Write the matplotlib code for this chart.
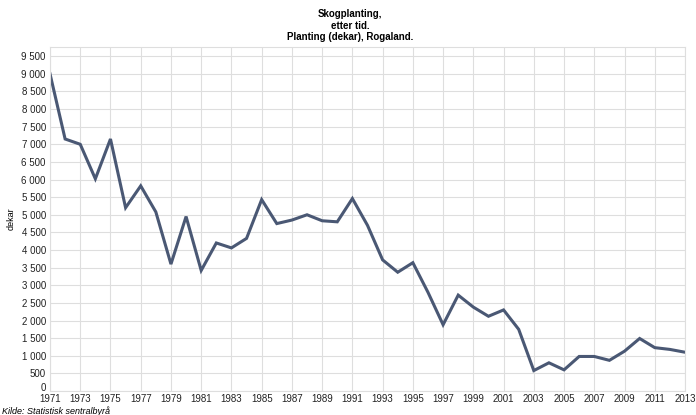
import matplotlib
matplotlib.use("Agg")
import matplotlib.pyplot as plt
import matplotlib.transforms as mtransforms
from matplotlib.ticker import FuncFormatter, MultipleLocator

plt.rcParams['font.family'] = ['Liberation Sans', 'DejaVu Sans']

years = list(range(1971, 2014))
values = [9000, 7150, 7000, 6020, 7150, 5200, 5820, 5080, 3600, 4950,
          3420, 4200, 4060, 4330, 5430, 4750, 4850, 5000, 4830, 4800,
          5460, 4700, 3720, 3370, 3640, 2800, 1880, 2720, 2380, 2120,
          2300, 1750, 580, 800, 600, 980, 980, 870, 1130, 1490,
          1230, 1180, 1100]
title = "Skogplanting,\netter tid.\nPlanting (dekar), Rogaland."
ylabel = "dekar"
source = "Kilde: Statistisk sentralbyrå"

fig = plt.figure(figsize=(6.96, 4.15), dpi=100)
ax = fig.add_axes([50/696, 24/415, 635/696, 344/415])
ax.plot(years, values, color='#4a5874', linewidth=2.2, solid_joinstyle='miter')
ax.set_xlim(1971, 2013)
ax.set_ylim(0, 9760)
ax.set_xticks(range(1971, 2014, 2))
ax.yaxis.set_major_locator(MultipleLocator(500))
ax.yaxis.set_major_formatter(FuncFormatter(lambda v, p: f"{int(v):,}".replace(",", " ")))
ax.grid(True, color='#dedede', linewidth=0.8)
ax.set_axisbelow(True)
for s in ax.spines.values():
    s.set_color('#dedede')
    s.set_linewidth(0.8)
ax.tick_params(length=0, labelsize=7, colors='#222222')
ax.tick_params(axis='y', pad=3)
ax.tick_params(axis='x', pad=2)
ax.set_ylabel(ylabel, fontsize=6.5, labelpad=4)
fig.text(0.503, 0.978, title, ha='center', va='top', fontsize=7, fontweight='bold', linespacing=1.2)
fig.text(0.003, -0.002, source, ha='left', va='bottom', fontsize=6.5, style='italic')

fig.canvas.draw()
for lbl in ax.get_yticklabels():
    if lbl.get_text() == "0":
        lbl.set_transform(lbl.get_transform() + mtransforms.ScaledTranslation(0, 3/72, fig.dpi_scale_trans))
fig.savefig("out.png", dpi=100)
